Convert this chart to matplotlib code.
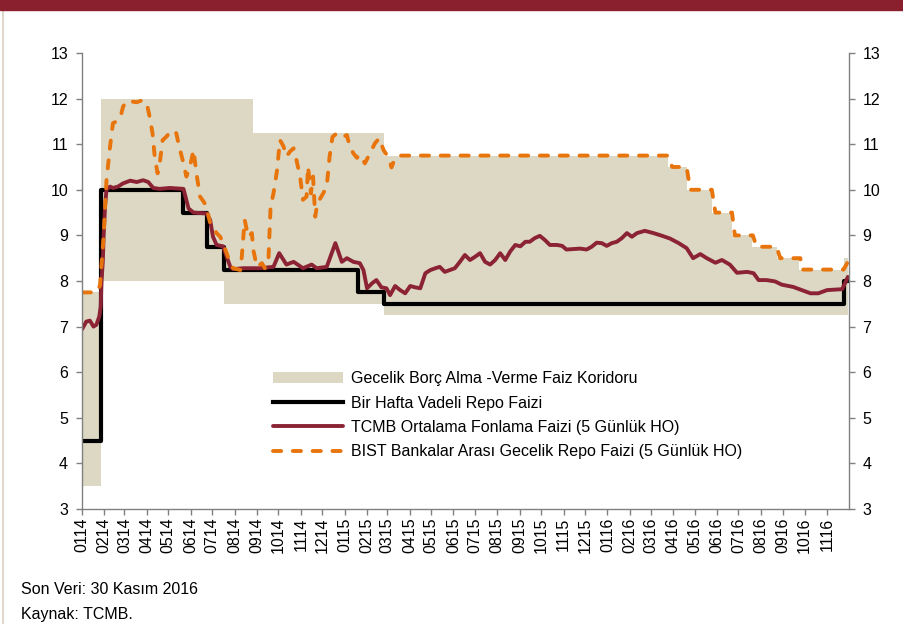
import matplotlib
matplotlib.use("Agg")
import matplotlib.pyplot as plt
import matplotlib.dates as mdates
import pandas as pd

plt.rcParams["font.family"] = ["Liberation Sans", "DejaVu Sans"]

# Gecelik borç alma / borç verme koridoru (tarih, alt, üst)
corridor_dates = ["2014-01-01", "2014-01-28", "2014-07-17", "2014-08-27", "2015-02-24",
                  "2016-03-25", "2016-04-21", "2016-05-25", "2016-06-22", "2016-07-20",
                  "2016-08-24", "2016-09-23", "2016-11-25", "2016-11-30"]
corridor_low = [3.5, 8.0, 7.5, 7.5, 7.25, 7.25, 7.25, 7.25, 7.25, 7.25, 7.25, 7.25, 7.25, 7.25]
corridor_high = [7.75, 12.0, 12.0, 11.25, 10.75, 10.5, 10.0, 9.5, 9.0, 8.75, 8.5, 8.25, 8.5, 8.5]

# Bir hafta vadeli repo faizi
repo_dates = ["2014-01-01", "2014-01-28", "2014-05-22", "2014-06-24", "2014-07-17",
              "2015-01-20", "2015-02-24", "2016-11-24", "2016-11-30"]
repo_rate = [4.5, 10.0, 9.5, 8.75, 8.25, 7.75, 7.5, 8.0, 8.0]

# TCMB ortalama fonlama faizi (5 günlük HO)
tcmb_dates = ["2014-01-01", "2014-01-07", "2014-01-12", "2014-01-17", "2014-01-21", "2014-01-25",
              "2014-01-27", "2014-01-28", "2014-01-30", "2014-01-31", "2014-02-02", "2014-02-04",
              "2014-02-09", "2014-02-13", "2014-02-20", "2014-02-27", "2014-03-09", "2014-03-18",
              "2014-03-27", "2014-04-03", "2014-04-10", "2014-04-19", "2014-05-03", "2014-05-22",
              "2014-05-29", "2014-06-05", "2014-06-23", "2014-06-28", "2014-07-02", "2014-07-07",
              "2014-07-16", "2014-07-21", "2014-07-26", "2014-07-30", "2014-08-13", "2014-09-05",
              "2014-09-24", "2014-10-02", "2014-10-08", "2014-10-12", "2014-10-22", "2014-11-04",
              "2014-11-16", "2014-11-23", "2014-12-07", "2014-12-14", "2014-12-19", "2014-12-23",
              "2014-12-28", "2015-01-04", "2015-01-13", "2015-01-22", "2015-01-27", "2015-02-01",
              "2015-02-08", "2015-02-14", "2015-02-21", "2015-02-28", "2015-03-05", "2015-03-12",
              "2015-03-19", "2015-03-26", "2015-04-02", "2015-04-09", "2015-04-16", "2015-04-23",
              "2015-04-30", "2015-05-07", "2015-05-13", "2015-05-20", "2015-05-27", "2015-06-03",
              "2015-06-10", "2015-06-17", "2015-06-24", "2015-07-01", "2015-07-08", "2015-07-15",
              "2015-07-22", "2015-07-29", "2015-08-05", "2015-08-12", "2015-08-19", "2015-08-26",
              "2015-09-02", "2015-09-09", "2015-09-15", "2015-09-22", "2015-09-29", "2015-10-06",
              "2015-10-13", "2015-10-23", "2015-10-30", "2015-11-05", "2015-11-24", "2015-12-03",
              "2015-12-10", "2015-12-17", "2015-12-24", "2015-12-31", "2016-01-07", "2016-01-14",
              "2016-01-21", "2016-01-28", "2016-02-04", "2016-02-11", "2016-02-22", "2016-03-05",
              "2016-03-17", "2016-03-28", "2016-04-09", "2016-04-20", "2016-04-29", "2016-05-09",
              "2016-05-18", "2016-05-30", "2016-06-08", "2016-06-19", "2016-06-29", "2016-07-13",
              "2016-07-22", "2016-07-29", "2016-08-09", "2016-08-21", "2016-08-30", "2016-09-15",
              "2016-09-27", "2016-10-09", "2016-10-20", "2016-11-01", "2016-11-22", "2016-11-26",
              "2016-11-30"]
tcmb_rate = [6.94, 7.11, 7.13, 7.0, 7.04, 7.22,
             7.44, 7.95, 8.46, 8.97, 9.63, 10.0,
             10.07, 10.04, 10.07, 10.14, 10.2, 10.17,
             10.21, 10.17, 10.04, 10.02, 10.04, 10.02,
             9.59, 9.5, 9.48, 9.34, 8.97, 8.79,
             8.76, 8.53, 8.31, 8.26, 8.28, 8.28,
             8.31, 8.61, 8.46, 8.36, 8.42, 8.28,
             8.36, 8.28, 8.31, 8.61, 8.83, 8.65,
             8.42, 8.5, 8.42, 8.39, 8.24, 7.84,
             7.95, 8.02, 7.86, 7.84, 7.69, 7.89,
             7.8, 7.73, 7.89, 7.86, 7.84, 8.17,
             8.24, 8.28, 8.31, 8.2, 8.24, 8.28,
             8.42, 8.57, 8.46, 8.53, 8.61, 8.42,
             8.36, 8.46, 8.61, 8.46, 8.65, 8.79,
             8.76, 8.86, 8.86, 8.94, 8.99, 8.9,
             8.79, 8.79, 8.77, 8.69, 8.71, 8.69,
             8.75, 8.84, 8.83, 8.77, 8.83, 8.86,
             8.94, 9.05, 8.97, 9.05, 9.1, 9.05,
             8.99, 8.93, 8.83, 8.72, 8.5, 8.59,
             8.5, 8.4, 8.46, 8.36, 8.18, 8.2,
             8.17, 8.02, 8.02, 7.99, 7.92, 7.87,
             7.8, 7.73, 7.73, 7.8, 7.82, 7.95,
             8.09]

# BIST bankalar arası gecelik repo faizi (5 günlük HO)
bist_dates = ["2014-01-02", "2014-01-21", "2014-01-26", "2014-01-31", "2014-02-04", "2014-02-09",
              "2014-02-13", "2014-02-18", "2014-02-23", "2014-02-27", "2014-03-04", "2014-03-18",
              "2014-03-27", "2014-04-02", "2014-04-05", "2014-04-09", "2014-04-12", "2014-04-16",
              "2014-04-19", "2014-04-23", "2014-04-28", "2014-05-06", "2014-05-12", "2014-05-16",
              "2014-05-22", "2014-05-26", "2014-05-31", "2014-06-05", "2014-06-09", "2014-06-14",
              "2014-06-19", "2014-06-23", "2014-06-28", "2014-07-02", "2014-07-07", "2014-07-12",
              "2014-07-16", "2014-07-21", "2014-07-26", "2014-07-30", "2014-08-09", "2014-08-11",
              "2014-08-15", "2014-08-20", "2014-08-25", "2014-08-27", "2014-09-01", "2014-09-08",
              "2014-09-12", "2014-09-17", "2014-09-20", "2014-09-24", "2014-09-29", "2014-10-03",
              "2014-10-08", "2014-10-12", "2014-10-17", "2014-10-22", "2014-10-26", "2014-10-31",
              "2014-11-04", "2014-11-09", "2014-11-11", "2014-11-15", "2014-11-18", "2014-11-21",
              "2014-11-24", "2014-11-28", "2014-12-02", "2014-12-07", "2014-12-11", "2014-12-15",
              "2014-12-21", "2014-12-29", "2015-01-04", "2015-01-08", "2015-01-13", "2015-01-18",
              "2015-01-22", "2015-01-29", "2015-02-05", "2015-02-12", "2015-02-18", "2015-02-24",
              "2015-03-03", "2015-03-07", "2015-03-12", "2015-03-19", "2016-03-25", "2016-03-31",
              "2016-04-20", "2016-04-25", "2016-05-25", "2016-05-30", "2016-06-22", "2016-06-26",
              "2016-07-21", "2016-07-26", "2016-08-23", "2016-08-28", "2016-09-25", "2016-09-27",
              "2016-11-24", "2016-11-30"]
bist_rate = [7.75, 7.75, 7.9, 8.97, 10.2, 10.95,
             11.46, 11.5, 11.57, 11.82, 11.95, 11.92,
             11.97, 11.82, 11.6, 11.24, 10.73, 10.36,
             10.58, 11.09, 11.16, 11.31, 11.24, 10.95,
             10.58, 10.29, 10.51, 10.87, 10.36, 9.85,
             9.74, 9.63, 9.27, 9.19, 9.05, 8.97,
             8.83, 8.61, 8.39, 8.28, 8.24, 8.53,
             9.34, 8.97, 9.05, 8.68, 8.31, 8.39,
             8.28, 8.46, 9.63, 9.92, 10.43, 11.09,
             10.95, 10.73, 10.84, 10.91, 10.65, 10.29,
             9.78, 9.85, 10.51, 9.92, 10.29, 9.41,
             9.71, 9.81, 9.92, 10.07, 10.73, 11.16,
             11.24, 11.16, 11.2, 10.95, 10.8, 10.7,
             10.77, 10.58, 10.8, 11.02, 11.13, 10.87,
             10.7, 10.49, 10.7, 10.75, 10.75, 10.5,
             10.5, 10.0, 10.0, 9.5, 9.5, 9.0,
             9.0, 8.75, 8.75, 8.5, 8.5, 8.25,
             8.25, 8.42]

month_ticks = pd.date_range("2014-01-01", "2016-11-01", freq="MS")

fig = plt.figure(figsize=(9.04, 6.24), dpi=100)
ax = fig.add_axes([0.0907, 0.1843, 0.848, 0.7308])

ax.fill_between(pd.to_datetime(corridor_dates), corridor_low, corridor_high,
                step="post", color="#DDD8C4", linewidth=0,
                label="Gecelik Borç Alma -Verme Faiz Koridoru")
ax.plot(pd.to_datetime(repo_dates), repo_rate, drawstyle="steps-post",
        color="black", linewidth=3.0, label="Bir Hafta Vadeli Repo Faizi")
ax.plot(pd.to_datetime(tcmb_dates), tcmb_rate, color="#8B2335", linewidth=2.8,
        solid_capstyle="round", label="TCMB Ortalama Fonlama Faizi (5 Günlük HO)")
ax.plot(pd.to_datetime(bist_dates), bist_rate, color="#E8740C", linewidth=2.8,
        linestyle=(0, (2.1, 3.0)), dash_capstyle="round",
        label="BIST Bankalar Arası Gecelik Repo Faizi (5 Günlük HO)")

ax.set_xlim(pd.Timestamp("2014-01-01"), pd.Timestamp("2016-12-01"))
ax.set_ylim(3, 13)
ax.set_yticks(range(3, 14))
ax.set_xticks(month_ticks)
ax.xaxis.set_major_formatter(mdates.DateFormatter("%m%y"))

for side in ["left", "right", "bottom"]:
    ax.spines[side].set_color("#808080")
    ax.spines[side].set_linewidth(1.0)
ax.spines["top"].set_visible(False)

ax.tick_params(axis="y", which="both", direction="out", length=4, width=1,
               color="#808080", labelsize=11.5, left=True, right=True,
               labelleft=True, labelright=True, pad=6)
ax.tick_params(axis="x", direction="out", length=4, width=1, color="#808080",
               labelsize=11.5, labelrotation=90, pad=2)

ax.legend(loc="upper left", bbox_to_anchor=(0.295, 0.415), bbox_transform=fig.transFigure,
          frameon=False, fontsize=11.5, handlelength=4.4, handletextpad=0.5,
          labelspacing=0.58, borderaxespad=0)

# üst bant ve sol kenar çizgisi
fig.patches.append(plt.Rectangle((0, 1 - 10 / 624), 1, 10 / 624, transform=fig.transFigure,
                                 color="#8A1F2E", zorder=5))
fig.add_artist(plt.Line2D([3.5 / 904, 3.5 / 904], [0, 1 - 10 / 624], transform=fig.transFigure,
                          color="#D8D0C0", linewidth=1.2))

fig.text(21 / 904, 1 - 590 / 624, "Son Veri: 30 Kasım 2016", fontsize=11.5, va="center")
fig.text(21 / 904, 1 - 615 / 624, "Kaynak: TCMB.", fontsize=11.5, va="center")

fig.savefig("out.png", dpi=100)
